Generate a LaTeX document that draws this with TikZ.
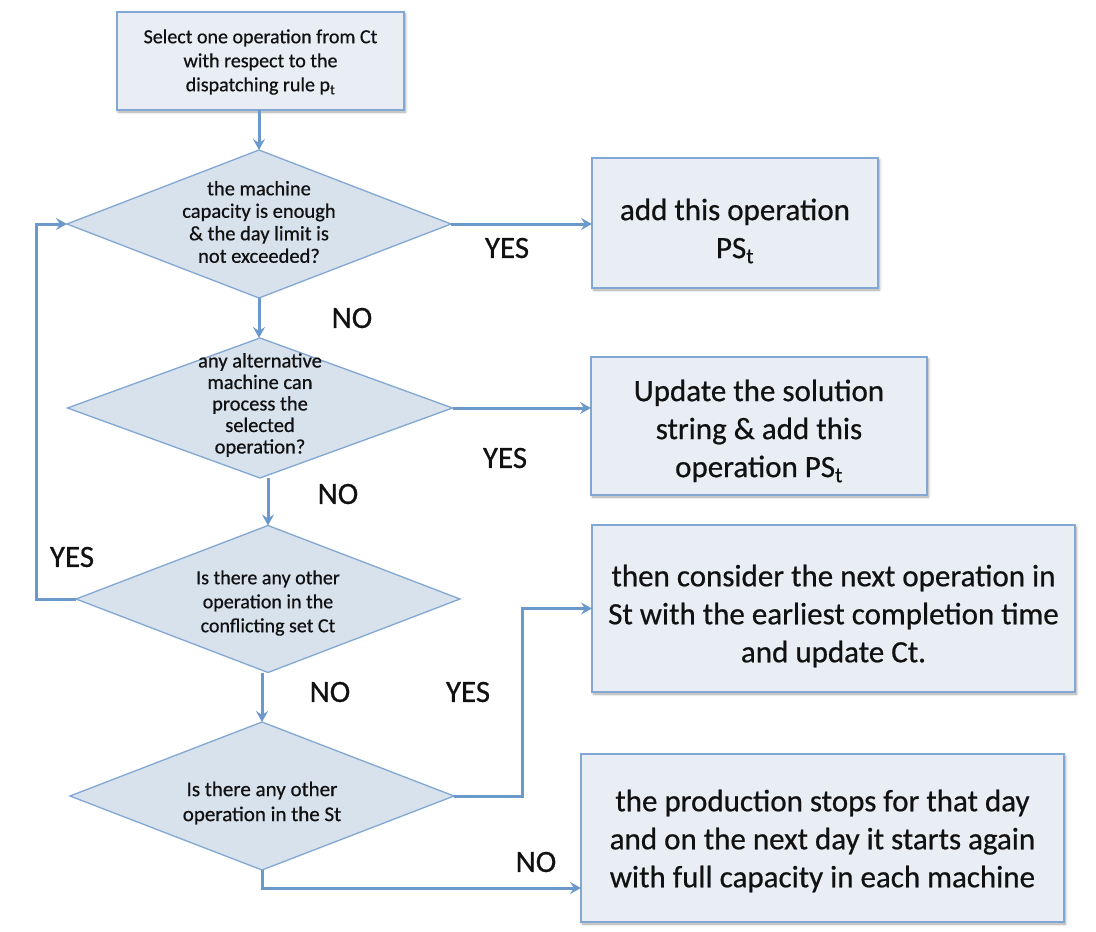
\documentclass[tikz,border=0pt]{standalone}
\usepackage{fontspec}
\setmainfont{Carlito}[FakeBold=0.6]
\usetikzlibrary{shapes.geometric,arrows.meta,shadows.blur}
\definecolor{edgeblue}{HTML}{6C99CC}
\definecolor{boxfill}{HTML}{E9EEF4}
\definecolor{boxline}{HTML}{82A7D2}
\definecolor{decfill}{HTML}{D8E2ED}
\definecolor{inkcol}{HTML}{111111}
\begin{document}
\begin{tikzpicture}[x=1pt,y=-1pt,
  box/.style={draw=boxline, line width=2pt, fill=boxfill, rectangle,
    inner sep=0pt, outer sep=0pt,
    blur shadow={shadow xshift=1.5pt, shadow yshift=-2pt,
      shadow blur steps=6, shadow blur radius=2.5pt, shadow opacity=35}},
  decision/.style={draw=boxline, line width=1.3pt, fill=decfill, diamond,
    inner sep=0pt, outer sep=0pt},
  qtext/.style={align=center, text=inkcol, inner sep=0pt},
  bigtext/.style={align=center, text=inkcol, inner sep=0pt,
    font=\fontsize{31}{38}\selectfont},
  lbl/.style={font=\fontsize{31}{36}\selectfont, text=inkcol},
  conn/.style={draw=edgeblue, line width=3pt,
    -{Stealth[length=11pt,width=12pt,inset=4pt]}},
]
\useasboundingbox (0,0) rectangle (1096,932);

% start box
\node[box, minimum width=287pt, minimum height=98pt] (sel) at (260.5,61) {};
\node[qtext, font=\fontsize{20}{24}\selectfont] (selt) at (260.5,62)
  {Select one operation from Ct\\with respect to the\\dispatching rule p\textsubscript{t}};

% decisions
\node[decision, minimum width=384pt, minimum height=148pt] (d1) at (259,224) {};
\node[qtext, font=\fontsize{20.5}{22.5}\selectfont] (q1) at (259,222)
  {the machine\\capacity is enough\\\& the day limit is\\not exceeded?};

\node[decision, minimum width=385pt, minimum height=140pt] (d2) at (260,408) {};
\node[qtext, font=\fontsize{20.5}{21.5}\selectfont] (q2) at (260,405)
  {any alternative\\machine can\\process the\\selected\\operation?};

\node[decision, minimum width=384pt, minimum height=147pt] (d3) at (268,599) {};
\node[qtext, font=\fontsize{20}{24}\selectfont] (q3) at (268,603)
  {Is there any other\\operation in the\\conflicting set Ct};

\node[decision, minimum width=384pt, minimum height=148pt] (d4) at (262,796) {};
\node[qtext, font=\fontsize{21}{25}\selectfont] (q4) at (262,803)
  {Is there any other\\operation in the St};

% result boxes
\node[box, minimum width=286pt, minimum height=130pt] (b1) at (735,223) {};
\node[bigtext] (t1) at (735,231) {add this operation\\PS\textsubscript{t}};

\node[box, minimum width=336pt, minimum height=138pt] (b2) at (759,426) {};
\node[bigtext] (t2) at (759,431)
  {Update the solution\\string \& add this\\operation PS\textsubscript{t}};

\node[box, minimum width=483pt, minimum height=167pt] (b3) at (833.5,608.5) {};
\node[bigtext] (t3) at (833.5,616)
  {then consider the next operation in\\St with the earliest completion time\\and update Ct.};

\node[box, minimum width=483pt, minimum height=168pt] (b4) at (822.5,838) {};
\node[bigtext] (t4) at (822.5,841)
  {the production stops for that day\\and on the next day it starts again\\with full capacity in each machine};

% branch labels
\node[lbl] (yes1) at (507,248) {YES};
\node[lbl] (no1) at (352,318) {NO};
\node[lbl] (yes2) at (505,458) {YES};
\node[lbl] (no2) at (338,494) {NO};
\node[lbl] (yes3) at (72,557) {YES};
\node[lbl] (no3) at (330,692) {NO};
\node[lbl] (yes4) at (468,692) {YES};
\node[lbl] (no4) at (536,862) {NO};

% bend points
\coordinate (lp) at (36,599);
\coordinate (yturn) at (522,700);
\coordinate (nturn) at (262,888);

% connectors
\draw[conn] (d1.north |- sel.south) -- (d1.north);
\draw[conn] (d1.east) -- (d1.east -| b1.west);
\draw[conn] (d1.south) -- (d1.south |- d2.north);
\draw[conn] (d2.east) -- (d2.east -| b2.west);
\draw[conn] (d3.north |- d2.south) -- (d3.north);
\draw[conn] (d3.west) -- (lp) |- (d1.west);
\draw[conn] (d4.north |- d3.south) -- (d4.north);
\draw[conn] (d4.east) -- (d4.east -| yturn) |- (b3.west);
\draw[conn] (d4.south) -- (nturn) -- (nturn -| b4.west);
\end{tikzpicture}
\end{document}
